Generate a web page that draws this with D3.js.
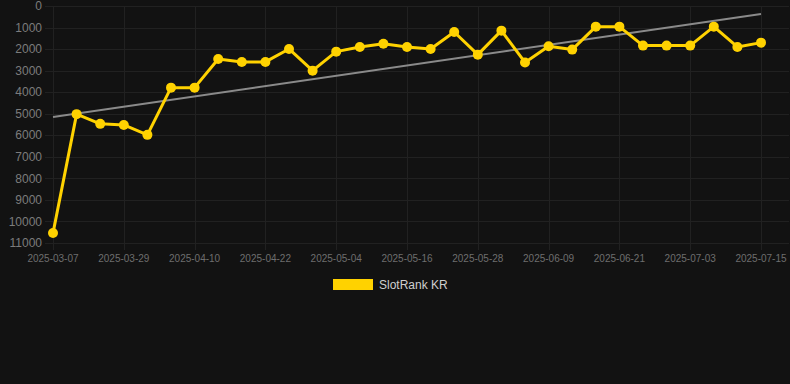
<!DOCTYPE html>
<html>
<head>
<meta charset="utf-8">
<script src="https://cdn.jsdelivr.net/npm/d3@7"></script>
<style>
html,body{margin:0;padding:0;background:#121212;}
svg{display:block;font-family:Arial,"Liberation Sans",Helvetica,sans-serif;}
</style>
</head>
<body>
<svg id="chart" width="790" height="384"></svg>
<script>
const dates = ["2025-03-07","2025-03-21","2025-03-25","2025-03-29","2025-04-02","2025-04-06","2025-04-10","2025-04-14","2025-04-18","2025-04-22","2025-04-26","2025-04-30","2025-05-04","2025-05-08","2025-05-12","2025-05-16","2025-05-20","2025-05-24","2025-05-28","2025-06-01","2025-06-05","2025-06-09","2025-06-13","2025-06-17","2025-06-21","2025-06-25","2025-06-29","2025-07-03","2025-07-07","2025-07-11","2025-07-15"];
const ranks = [10540,5020,5470,5520,5980,3790,3790,2457,2596,2596,1993,3000,2118,1900,1748,1900,1993,1205,2257,1143,2620,1870,2024,958,958,1839,1839,1839,958,1900,1700];
const yTicks = [0,1000,2000,3000,4000,5000,6000,7000,8000,9000,10000,11000];
const seriesName = "SlotRank KR";

(function () {
const svg = d3.select("#chart");
const pl = 53, pr = 761, pt = 6, pb = 243;

const x = d3.scalePoint().domain(dates).range([pl, pr]);
const y = d3.scaleLinear().domain([0, 11000]).range([pt, pb]);

const xTickLabels = dates.filter((d, i) => i % 3 === 0);

// horizontal grid
svg.append("g").selectAll("line").data(yTicks).join("line")
  .attr("x1", pl - 8).attr("x2", 789)
  .attr("y1", d => Math.round(y(d)) + 0.5).attr("y2", d => Math.round(y(d)) + 0.5)
  .attr("stroke", "#212121").attr("stroke-width", 1);

// vertical grid
svg.append("g").selectAll("line").data(xTickLabels).join("line")
  .attr("x1", d => Math.round(x(d)) + 0.5).attr("x2", d => Math.round(x(d)) + 0.5)
  .attr("y1", pt).attr("y2", pb + 7)
  .attr("stroke", "#212121").attr("stroke-width", 1);

// y axis labels
svg.append("g").selectAll("text").data(yTicks).join("text")
  .attr("x", 42).attr("y", d => y(d)).attr("dy", "0.35em")
  .attr("text-anchor", "end").attr("font-size", 12).attr("fill", "#7c7c7c")
  .text(d => d);

// x axis labels
svg.append("g").selectAll("text").data(xTickLabels).join("text")
  .attr("x", d => x(d)).attr("y", 262)
  .attr("text-anchor", "middle").attr("font-size", 10).attr("fill", "#6e6e6e")
  .text(d => d);

// trend line (linear regression)
const n = ranks.length;
const idx = d3.range(n);
const mx = d3.mean(idx), my = d3.mean(ranks);
const slope = d3.sum(idx, i => (i - mx) * (ranks[i] - my)) / d3.sum(idx, i => (i - mx) ** 2);
const icpt = my - slope * mx;
const trend = [0, n - 1].map(i => ({d: dates[i], v: icpt + slope * i}));
svg.append("path").datum(trend)
  .attr("d", d3.line().x(p => x(p.d)).y(p => y(p.v)))
  .attr("fill", "none").attr("stroke", "#8a8a8a").attr("stroke-width", 2);

// series line
const pts = dates.map((d, i) => ({d, v: ranks[i]}));
svg.append("path").datum(pts)
  .attr("d", d3.line().x(p => x(p.d)).y(p => y(p.v)))
  .attr("fill", "none").attr("stroke", "#FFD200").attr("stroke-width", 3)
  .attr("stroke-linejoin", "round");

svg.append("g").selectAll("circle").data(pts).join("circle")
  .attr("cx", p => x(p.d)).attr("cy", p => y(p.v)).attr("r", 5)
  .attr("fill", "#FFD200");

// legend
const lg = svg.append("g");
lg.append("rect").attr("x", 333).attr("y", 279).attr("width", 40).attr("height", 11)
  .attr("fill", "#FFD200");
lg.append("text").attr("x", 379).attr("y", 285).attr("dy", "0.35em")
  .attr("font-size", 12).attr("fill", "#cfcfcf").text(seriesName);
})();
</script>
</body>
</html>
